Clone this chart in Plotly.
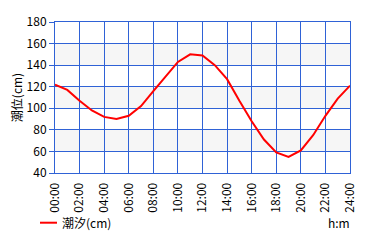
import plotly.graph_objects as go

hours = list(range(25))
tide = [122, 117, 107, 98, 92, 90, 93, 102, 116, 130, 143, 150, 149,
        140, 127, 107, 88, 71, 59, 55, 61, 75, 93, 109, 121]
series_name = "潮汐(cm)"
y_title = "潮位(cm)"
x_unit = "h:m"
x_tick_vals = list(range(0, 25, 2))
x_tick_text = [f"{h:02d}:00" for h in x_tick_vals]
y_tick_vals = list(range(40, 181, 20))

W, H = 380, 240
L, R, T, B = 55, 30, 12, 67
grid_col = "#2f62d6"
font = "Noto Sans CJK JP, Noto Sans, sans-serif"

fig = go.Figure()
fig.add_trace(go.Scatter(x=hours, y=tide, mode="lines", name=series_name,
                         line=dict(color="#ff0000", width=2), showlegend=False))

shapes = []
# alternating background bands
for i in range(1, len(y_tick_vals) - 1, 2):
    shapes.append(dict(type="rect", xref="paper", yref="y", x0=0, x1=1,
                       y0=y_tick_vals[i], y1=y_tick_vals[i + 1],
                       fillcolor="#f6f6f6", line=dict(width=0), layer="below"))

pw = W - L - R
ph = H - T - B
def px_x(p):
    return (p - L) / pw
def px_y(p):
    return (H - B - p) / ph

# manual legend
shapes.append(dict(type="line", xref="paper", yref="paper",
                   x0=px_x(40), x1=px_x(57), y0=px_y(226), y1=px_y(226),
                   line=dict(color="#ff0000", width=2)))

annotations = [
    dict(text=series_name, xref="paper", yref="paper", x=px_x(60), y=px_y(226),
         xanchor="left", yanchor="middle", showarrow=False,
         font=dict(family=font, size=12, color="#000")),
    dict(text=x_unit, xref="paper", yref="paper", x=px_x(339), y=px_y(226),
         xanchor="center", yanchor="middle", showarrow=False,
         font=dict(family=font, size=12, color="#000")),
]

fig.update_layout(
    width=W, height=H, margin=dict(l=L, r=R, t=T, b=B),
    paper_bgcolor="white", plot_bgcolor="white",
    font=dict(family=font, size=12, color="#000"),
    shapes=shapes, annotations=annotations,
    xaxis=dict(range=[0, 24], tickvals=x_tick_vals, ticktext=x_tick_text,
               tickangle=-90, showgrid=True, gridcolor=grid_col, gridwidth=1,
               showline=True, linecolor=grid_col, linewidth=1, mirror=True,
               ticks="", ticklabelstandoff=4, zeroline=False,
               tickfont=dict(size=12)),
    yaxis=dict(range=[40, 180], tickvals=y_tick_vals, showgrid=True,
               gridcolor=grid_col, gridwidth=1, showline=True, linecolor=grid_col,
               linewidth=1, mirror=True, ticks="outside", ticklen=5,
               tickcolor=grid_col, zeroline=False,
               title=dict(text=y_title, standoff=1, font=dict(size=12)),
               tickfont=dict(size=12)),
)

fig.write_html("out.html")
